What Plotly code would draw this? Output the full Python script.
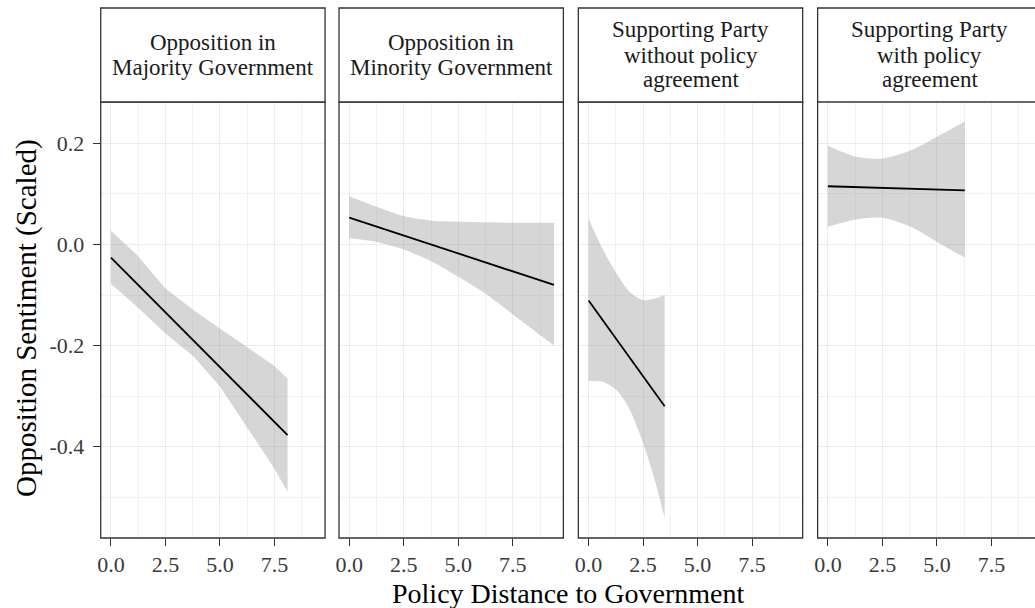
import plotly.graph_objects as go

W, H = 1035, 608

# ---------------- data ----------------
panel_titles = [
    ["Opposition in", "Majority Government"],
    ["Opposition in", "Minority Government"],
    ["Supporting Party", "without policy", "agreement"],
    ["Supporting Party", "with policy", "agreement"],
]

p1_x = [0, 1.2, 2.5, 3.8, 5.0, 6.2, 7.45, 8.1]
p1_upper = [0.027, -0.021, -0.087, -0.130, -0.166, -0.202, -0.239, -0.265]
p1_lower = [-0.078, -0.123, -0.176, -0.222, -0.281, -0.360, -0.440, -0.489]
p1_fit_x = [0, 8.1]
p1_fit_y = [-0.026, -0.377]

p2_x = [0, 1.28, 2.5, 3.8, 5.0, 6.24, 7.46, 9.39]
p2_upper = [0.0955, 0.074, 0.056, 0.047, 0.045, 0.044, 0.043, 0.043]
p2_lower = [0.012, 0.005, -0.010, -0.034, -0.064, -0.097, -0.137, -0.200]
p2_fit_x = [0, 9.39]
p2_fit_y = [0.053, -0.080]

p3_x = [0, 0.67, 1.28, 1.89, 2.5, 3.04, 3.49]
p3_upper = [0.051, -0.011, -0.057, -0.094, -0.110, -0.107, -0.100]
p3_lower = [-0.270, -0.272, -0.288, -0.327, -0.393, -0.466, -0.541]
p3_fit_x = [0, 3.49]
p3_fit_y = [-0.111, -0.320]

p4_x = [0, 1.21, 2.5, 3.8, 5.01, 6.28]
p4_upper = [0.195, 0.1745, 0.170, 0.186, 0.213, 0.243]
p4_lower = [0.035, 0.049, 0.053, 0.035, 0.005, -0.026]
p4_fit_x = [0, 6.28]
p4_fit_y = [0.115, 0.107]

panels = [
    (p1_x, p1_upper, p1_lower, p1_fit_x, p1_fit_y),
    (p2_x, p2_upper, p2_lower, p2_fit_x, p2_fit_y),
    (p3_x, p3_upper, p3_lower, p3_fit_x, p3_fit_y),
    (p4_x, p4_upper, p4_lower, p4_fit_x, p4_fit_y),
]
ribbon_shape = ["linear", "spline", "spline", "spline"]

x_tickvals = [0, 2.5, 5, 7.5]
x_ticktext = ["0.0", "2.5", "5.0", "7.5"]
x_minor = [1.25, 3.75, 6.25, 8.75]
y_tickvals = [-0.4, -0.2, 0.0, 0.2]
y_ticktext = ["-0.4", "-0.2", "0.0", "0.2"]
y_minor = [-0.5, -0.3, -0.1, 0.1]

x_title = "Policy Distance to Government"
y_title = "Opposition Sentiment (Scaled)"

# ---------------- layout geometry (pixels) ----------------
FONT = "Liberation Serif"
panel_px = [(98, 323), (337, 562), (577, 802), (817, 1035)]
x_ranges = [(-0.47, 9.82), (-0.47, 9.82), (-0.47, 9.82), (-0.47, 9.50)]
panel_top, panel_bot = 102, 538
strip_top = 8
y_range = (-0.5804, 0.2816)
RIBBON = "rgba(153,153,153,0.4)"


def px(v):
    return v / W


def py(v):
    return 1 - v / H


fig = go.Figure()

for i, (xs, up, lo, fx, fy) in enumerate(panels):
    n = "" if i == 0 else str(i + 1)
    shp = ribbon_shape[i]
    fig.add_trace(go.Scatter(
        x=xs, y=up, mode="lines",
        line=dict(width=0, shape=shp, smoothing=0.8, color=RIBBON),
        hoverinfo="skip", showlegend=False, xaxis="x" + n, yaxis="y" + n,
    ))
    fig.add_trace(go.Scatter(
        x=xs, y=lo, mode="lines", fill="tonexty", fillcolor=RIBBON,
        line=dict(width=0, shape=shp, smoothing=0.8, color=RIBBON),
        hoverinfo="skip", showlegend=False, xaxis="x" + n, yaxis="y" + n,
    ))
    fig.add_trace(go.Scatter(
        x=fx, y=fy, mode="lines", line=dict(color="black", width=1.8),
        showlegend=False, xaxis="x" + n, yaxis="y" + n,
    ))

layout = dict(
    width=W, height=H, autosize=False,
    margin=dict(l=0, r=0, t=0, b=0),
    paper_bgcolor="white", plot_bgcolor="white",
    font=dict(family=FONT, color="black"),
    showlegend=False,
)

shapes = []
annotations = []
STRIP_LINE = 25
for i, ((a, b), xr) in enumerate(zip(panel_px, x_ranges)):
    n = "" if i == 0 else str(i + 1)
    layout["xaxis" + n] = dict(
        domain=[px(a), px(b)], range=list(xr), anchor="y" + n,
        tickvals=x_tickvals, ticktext=x_ticktext,
        ticks="outside", ticklen=7, tickwidth=1.3, tickcolor="#333333",
        tickfont=dict(family=FONT, size=22, color="#3A3A3A"),
        showgrid=True, gridcolor="#EBEBEB", gridwidth=1.3,
        minor=dict(tickvals=x_minor, showgrid=True, gridcolor="#F2F2F2",
                   gridwidth=0.8, ticks=""),
        zeroline=False, showline=False, fixedrange=True,
    )
    layout["yaxis" + n] = dict(
        domain=[py(panel_bot), py(panel_top)], range=list(y_range),
        anchor="x" + n,
        tickvals=y_tickvals, ticktext=y_ticktext,
        ticks="outside" if i == 0 else "", ticklen=7, tickwidth=1.3,
        tickcolor="#333333", showticklabels=(i == 0),
        ticklabelstandoff=4,
        tickfont=dict(family=FONT, size=22, color="#3A3A3A"),
        showgrid=True, gridcolor="#EBEBEB", gridwidth=1.3,
        minor=dict(tickvals=y_minor, showgrid=True, gridcolor="#F2F2F2",
                   gridwidth=0.8, ticks=""),
        zeroline=False, showline=False, fixedrange=True,
    )
    x0, x1 = px(a), px(b)
    yt, yb, ys = py(panel_top), py(panel_bot), py(strip_top)
    line = dict(color="#333333", width=1.3)
    if i < 3:
        shapes.append(dict(type="rect", xref="paper", yref="paper",
                           x0=x0, x1=x1, y0=yb, y1=yt, line=line,
                           fillcolor="rgba(0,0,0,0)", layer="above"))
        shapes.append(dict(type="rect", xref="paper", yref="paper",
                           x0=x0, x1=x1, y0=yt, y1=ys, line=line,
                           fillcolor="white", layer="above"))
    else:
        shapes.append(dict(type="path", xref="paper", yref="paper",
                           path=f"M {x1+0.01},{yb} L {x0},{yb} L {x0},{ys} L {x1+0.01},{ys}",
                           line=line, layer="above"))
        shapes.append(dict(type="line", xref="paper", yref="paper",
                           x0=x0, x1=x1 + 0.01, y0=yt, y1=yt, line=line,
                           layer="above"))
    cx = px(a + 112.5)
    lines = panel_titles[i]
    mid = (strip_top + panel_top) / 2
    for k, txt in enumerate(lines):
        yc = mid + (k - (len(lines) - 1) / 2) * STRIP_LINE
        annotations.append(dict(
            text=txt, xref="paper", yref="paper", x=cx, y=py(yc),
            xanchor="center", yanchor="middle", showarrow=False,
            font=dict(family=FONT, size=23, color="#1A1A1A"),
        ))

annotations.append(dict(
    text=x_title, xref="paper", yref="paper", x=px(567), y=py(593),
    xanchor="center", yanchor="middle", showarrow=False,
    font=dict(family=FONT, size=28, color="black"),
))
annotations.append(dict(
    text=y_title, xref="paper", yref="paper", x=px(23), y=py(318),
    xanchor="center", yanchor="middle", showarrow=False, textangle=-90,
    font=dict(family=FONT, size=29, color="black"),
))

layout["shapes"] = shapes
layout["annotations"] = annotations
fig.update_layout(**layout)

fig.write_html("out.html")
